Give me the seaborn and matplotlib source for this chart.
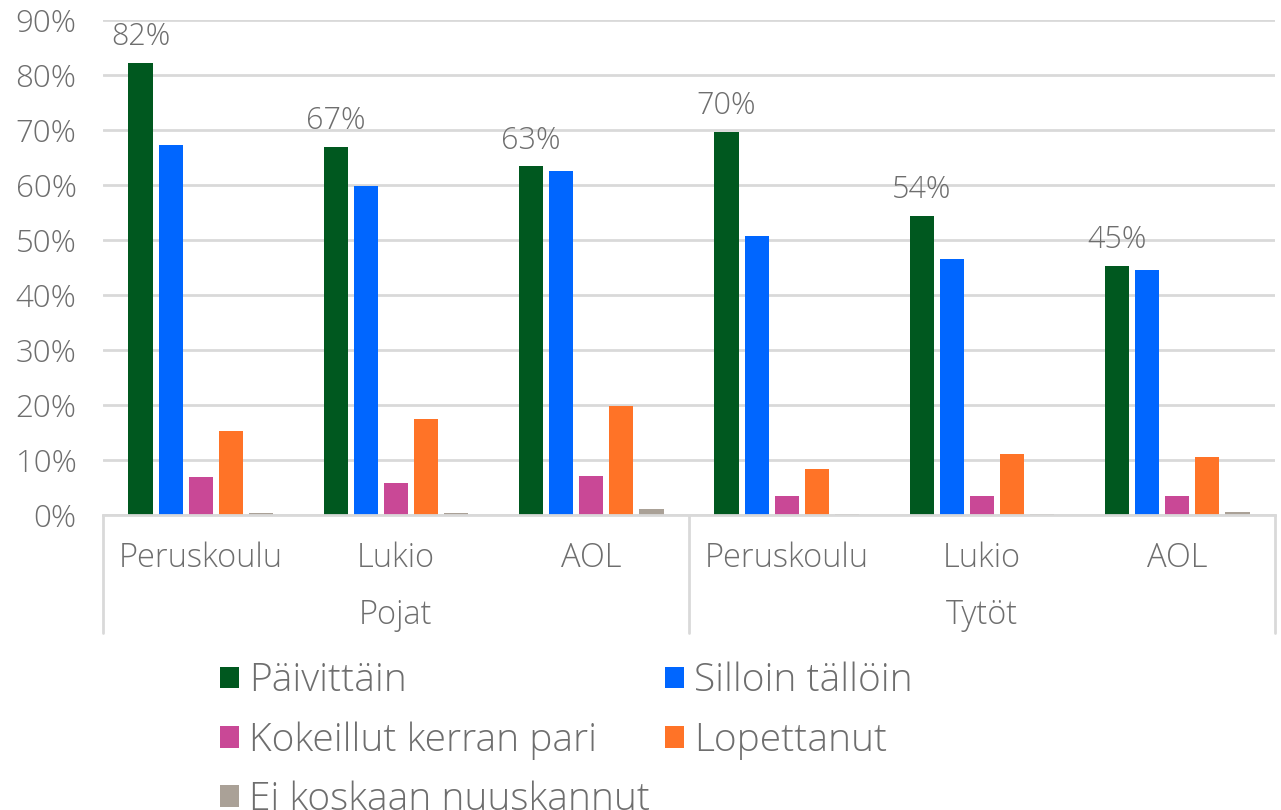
import pandas as pd
import numpy as np
import seaborn as sns
import matplotlib.pyplot as plt
from matplotlib.ticker import PercentFormatter
from matplotlib.transforms import blended_transform_factory
from matplotlib.patches import Patch

# data (percent)
genders = ["Pojat", "Tytöt"]
schools = ["Peruskoulu", "Lukio", "AOL"]
series = ["Päivittäin", "Silloin tällöin", "Kokeillut kerran pari", "Lopettanut",
          "Ei koskaan nuuskannut"]
paivittain = [82.2, 66.9, 63.4, 69.6, 54.4, 45.3]
silloin = [67.3, 59.8, 62.5, 50.7, 46.5, 44.5]
kokeillut = [6.9, 5.8, 7.0, 3.5, 3.5, 3.4]
lopettanut = [15.3, 17.5, 19.9, 8.3, 11.1, 10.5]
ei_koskaan = [0.3, 0.3, 1.1, 0.2, 0.2, 0.5]
colors = ["#00581F", "#0066FF", "#C94896", "#FF7327", "#AAA197"]

TEXT = "#6e6e6e"
GRID = "#d9d9d9"

cats = [f"{g}|{s}" for g in genders for s in schools]
rows = []
for name, vals in zip(series, [paivittain, silloin, kokeillut, lopettanut, ei_koskaan]):
    for c, v in zip(cats, vals):
        rows.append({"cat": c, "series": name, "value": v})
df = pd.DataFrame(rows)

sns.set_style("white")
plt.rcParams["font.family"] = ["Open Sans", "DejaVu Sans"]
plt.rcParams["font.weight"] = "light"

fig = plt.figure(figsize=(12.81, 8.10), dpi=100)
ax = fig.add_axes([0.0804, 0.3642, 0.9149, 0.6111])

sns.barplot(data=df, x="cat", y="value", hue="series", order=cats, hue_order=series,
            palette=colors, width=0.77, gap=0.2, ax=ax, legend=False,
            saturation=1, edgecolor="none", linewidth=0)

ax.set_ylim(0, 90)
ax.set_xlim(-0.5, 5.5)
ax.set_yticks(np.arange(0, 91, 10))
ax.yaxis.set_major_formatter(PercentFormatter(decimals=0))
ax.yaxis.grid(True, color=GRID, linewidth=2)
ax.set_axisbelow(True)
for s in ["top", "right", "left"]:
    ax.spines[s].set_visible(False)
ax.spines["bottom"].set_color(GRID)
ax.spines["bottom"].set_linewidth(2)
ax.set_xlabel("")
ax.set_ylabel("")
ax.tick_params(axis="y", length=0, labelsize=22.5, labelcolor=TEXT, pad=19)
ax.set_xticks(range(len(cats)))
ax.set_xticklabels(schools * 2)
ax.tick_params(axis="x", length=0, labelsize=23.5, labelcolor=TEXT, pad=19)

# labels on the daily bars
ax.bar_label(ax.containers[0], labels=[f"{v:.0f}%" for v in paivittain],
             padding=7, fontsize=22, color=TEXT)

# hierarchical axis: separators and group names
trans = blended_transform_factory(ax.transData, ax.transAxes)
for xv in [-0.5, 2.5, 5.5]:
    ax.plot([xv, xv], [0, -0.238], transform=trans, color=GRID, lw=2, clip_on=False)
for i, g in enumerate(genders):
    ax.text(1 + 3 * i, -0.203, g, transform=trans, ha="center", va="center",
            fontsize=23.5, color=TEXT)

# legend filled row by row like the original
handles = [Patch(facecolor=c, edgecolor="none") for c in colors]
order = [0, 2, 4, 1, 3]
fig.legend([handles[i] for i in order], [series[i] for i in order],
           loc="upper left", bbox_to_anchor=(0.1445, 0.226),
           ncol=2, frameon=False, fontsize=28, labelcolor=TEXT,
           handlelength=0.48, handleheight=0.48, handletextpad=0.26,
           labelspacing=0.53, columnspacing=0.4)

fig.savefig("out.png", dpi=100)
